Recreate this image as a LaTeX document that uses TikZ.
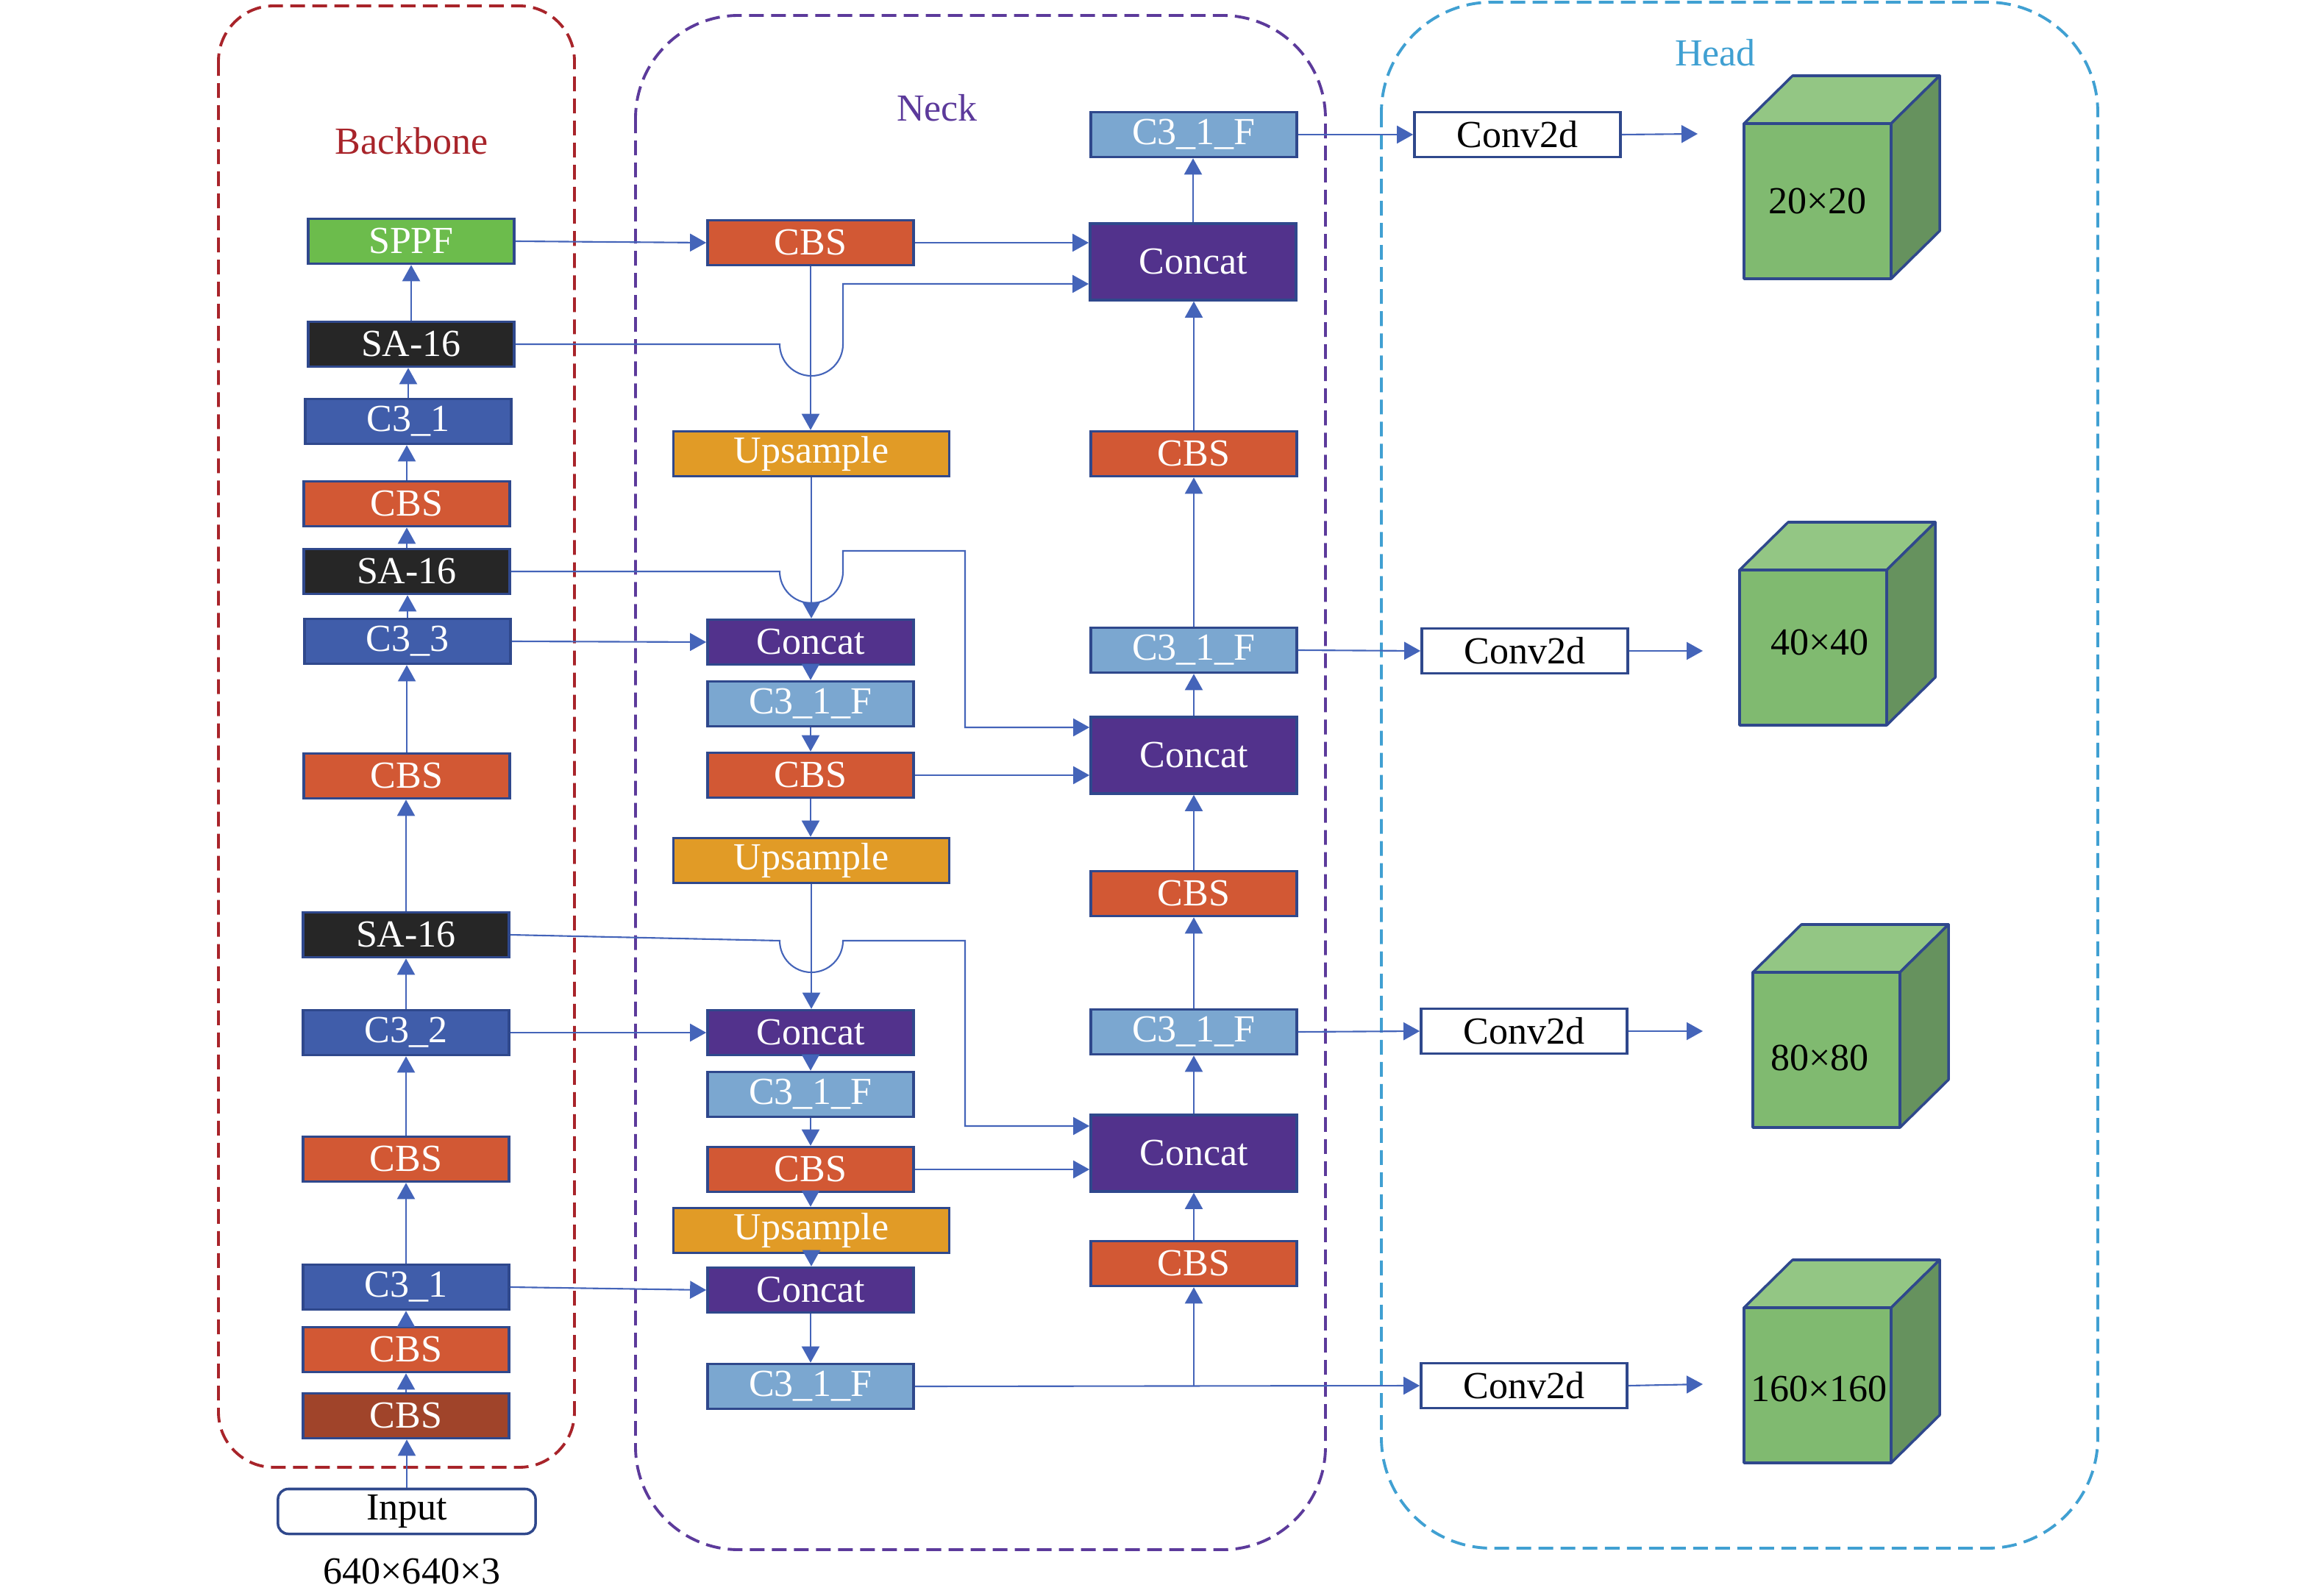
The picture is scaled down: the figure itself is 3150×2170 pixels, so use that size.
\documentclass[tikz,border=0pt]{standalone}
\usepackage{fontspec}
\setmainfont{Liberation Serif}
\usetikzlibrary{calc,arrows.meta}
\definecolor{bdr}{RGB}{47,72,140}
\definecolor{lnk}{RGB}{68,100,185}
\definecolor{cbsc}{RGB}{210,88,52}
\definecolor{cbsd}{RGB}{160,68,42}
\definecolor{c3c}{RGB}{64,93,170}
\definecolor{c3f}{RGB}{123,167,208}
\definecolor{sac}{RGB}{38,38,38}
\definecolor{sppfc}{RGB}{108,188,76}
\definecolor{catc}{RGB}{82,50,140}
\definecolor{upc}{RGB}{225,155,38}
\definecolor{bbred}{RGB}{168,36,42}
\definecolor{neckc}{RGB}{92,58,155}
\definecolor{headc}{RGB}{64,160,210}
\definecolor{cubef}{RGB}{128,186,112}
\definecolor{cubet}{RGB}{147,198,132}
\definecolor{cubes}{RGB}{102,146,94}
\tikzset{
txt/.style={font=\fontsize{14.8}{16}\selectfont},
blk/.style={txt,draw=bdr,line width=1pt,minimum width=2.8cm,minimum height=0.61cm,inner sep=0pt,text=white},
cbsbox/.style={blk,fill=cbsc},
c3box/.style={blk,fill=c3c},
c3fbox/.style={blk,fill=c3f},
sabox/.style={blk,fill=sac},
sppfbox/.style={blk,fill=sppfc},
catbox/.style={blk,fill=catc},
bigcat/.style={catbox,minimum height=1.04cm},
upbox/.style={blk,fill=upc,minimum width=3.75cm},
convbox/.style={blk,fill=white,text=black},
inbox/.style={blk,fill=white,text=black,minimum width=3.5cm,rounded corners=4pt},
zone/.style={line width=1.1pt,dash pattern=on 2mm off 1mm},
zonelbl/.style={txt},
link/.style={lnk,line width=0.6pt,-{Triangle[length=2.2mm,width=2.4mm]}},
cubeface/.style={draw=bdr,line width=1pt,line join=round}
}
% cube: [label shift], name, x, y of front top-left, label
\newcommand{\featcube}[5][0,0]{
\draw[cubeface,fill=cubet] (#3,#4) -- ++(66,-65) -- ++(200,0) -- ++(-66,65) -- cycle;
\draw[cubeface,fill=cubes] ({#3+200},#4) -- ++(66,-65) -- ++(0,211) -- ++(-66,65) -- cycle;
\draw[cubeface,fill=cubef] (#3,#4) rectangle ++(200,211);
\node[txt,shift={(#1)}] (#2) at ({#3+100},{#4+105}) {#5};
}

\begin{document}
\begin{tikzpicture}[x=0.01cm,y=-0.01cm]
\useasboundingbox (0,0) rectangle (3150,2170);

% zones
\draw[zone,bbred,rounded corners=0.75cm] (297,8) rectangle (781,1995);
\draw[zone,neckc,rounded corners=1.4cm] (864,21) rectangle (1802,2107);
\draw[zone,headc,rounded corners=1.5cm] (1878,3) rectangle (2852,2105);
\node[zonelbl,text=bbred] (bblbl) at (560,192) {Backbone};
\node[zonelbl,text=neckc] (necklbl) at (1274,147) {Neck};
\node[zonelbl,text=headc] (headlbl) at (2332,72) {Head};

% backbone
\node[sppfbox] (sppf) at (559,328) {SPPF};
\node[sabox] (sa1) at (559,468) {SA-16};
\node[c3box] (c31a) at (555,573) {C3\_1};
\node[cbsbox] (cbs1) at (553,685) {CBS};
\node[sabox] (sa2) at (553,777) {SA-16};
\node[c3box] (c33) at (554,872) {C3\_3};
\node[cbsbox] (cbs2) at (553,1055) {CBS};
\node[sabox] (sa3) at (552,1271) {SA-16};
\node[c3box] (c32) at (552,1404) {C3\_2};
\node[cbsbox] (cbs3) at (552,1576) {CBS};
\node[c3box] (c31b) at (552,1750) {C3\_1};
\node[cbsbox] (cbs4) at (552,1835) {CBS};
\node[cbsbox,fill=cbsd] (cbs5) at (552,1925) {CBS};
\node[inbox] (inp) at (553,2055) {Input};
\node[txt] (dims) at (560,2136) {640×640×3};

% neck, left column
\node[cbsbox] (ncbs1) at (1102,330) {CBS};
\node[upbox] (up1) at (1103,617) {Upsample};
\node[catbox] (cat1) at (1102,873) {Concat};
\node[c3fbox] (f1) at (1102,957) {C3\_1\_F};
\node[cbsbox] (ncbs2) at (1102,1054) {CBS};
\node[upbox] (up2) at (1103,1170) {Upsample};
\node[catbox] (cat2) at (1102,1404) {Concat};
\node[c3fbox] (f2) at (1102,1488) {C3\_1\_F};
\node[cbsbox] (ncbs3) at (1102,1590) {CBS};
\node[upbox] (up3) at (1103,1673) {Upsample};
\node[catbox] (cat3) at (1102,1754) {Concat};
\node[c3fbox] (f3) at (1102,1885) {C3\_1\_F};

% neck, right column
\node[c3fbox] (rf1) at (1623,183) {C3\_1\_F};
\node[bigcat] (rcat1) at (1622,356) {Concat};
\node[cbsbox] (rcbs1) at (1623,617) {CBS};
\node[c3fbox] (rf2) at (1623,884) {C3\_1\_F};
\node[bigcat] (rcat2) at (1623,1027) {Concat};
\node[cbsbox] (rcbs2) at (1623,1215) {CBS};
\node[c3fbox] (rf3) at (1623,1403) {C3\_1\_F};
\node[bigcat] (rcat3) at (1623,1568) {Concat};
\node[cbsbox] (rcbs3) at (1623,1718) {CBS};

% head
\node[convbox] (cv1) at (2063,183) {Conv2d};
\node[convbox] (cv2) at (2073,885) {Conv2d};
\node[convbox] (cv3) at (2072,1402) {Conv2d};
\node[convbox] (cv4) at (2072,1884) {Conv2d};
\coordinate (o1) at (2308,182);
\coordinate (o2) at (2315,885);
\coordinate (o3) at (2315,1402);
\coordinate (o4) at (2315,1882);
\featcube{g1}{2371}{168}{20×20}
\featcube[9,-7]{g2}{2365}{775}{40×40}
\featcube[-9,11]{g3}{2383}{1322}{80×80}
\featcube[2,5]{g4}{2371}{1778}{160×160}

% links
\foreach \a/\b in {inp/cbs5,cbs5/cbs4,cbs4/c31b,c31b/cbs3,cbs3/c32,c32/sa3,sa3/cbs2,cbs2/c33,c33/sa2,sa2/cbs1,cbs1/c31a,c31a/sa1,sa1/sppf}
  \draw[link] (\a.north) -- (\a.north |- \b.south);
\foreach \a/\b in {ncbs1/up1,up1/cat1,cat1/f1,f1/ncbs2,ncbs2/up2,up2/cat2,cat2/f2,f2/ncbs3,ncbs3/up3,up3/cat3,cat3/f3}
  \draw[link] (\a.south) -- (\a.south |- \b.north);
\foreach \a/\b in {rcbs3/rcat3,rcat3/rf3,rf3/rcbs2,rcbs2/rcat2,rcat2/rf2,rf2/rcbs1,rcbs1/rcat1,rcat1/rf1}
  \draw[link] (\a.north) -- (\a.north |- \b.south);
\foreach \a/\b in {sppf/ncbs1,c33/cat1,c32/cat2,c31b/cat3,rf1/cv1,rf2/cv2,rf3/cv3,f3/cv4}
  \draw[link] (\a.east) -- (\b.west);
\foreach \a/\b in {ncbs1/rcat1,ncbs2/rcat2,ncbs3/rcat3}
  \draw[link] (\a.east) -- (\a.east -| \b.west);
\foreach \a/\b in {cv1/o1,cv2/o2,cv3/o3,cv4/o4}
  \draw[link] (\a.east) -- (\b);
\draw[link] (rcbs3.south |- f3.east) -- (rcbs3.south);
% skip links with hops
\draw[link] (sa1.east) -- (1060,468) arc[start angle=180,end angle=360,radius=0.43cm]
  |- ([yshift=-3mm]rcat1.west);
\draw[link] (sa2.east) -- (1060,777) arc[start angle=180,end angle=360,radius=0.43cm]
  -- (1146,749) -- (1312,749) |- ([yshift=3.8mm]rcat2.west);
\draw[link] (sa3.east) -- (1060,1279) arc[start angle=180,end angle=360,radius=0.43cm]
  -- (1312,1279) |- ([yshift=3.7mm]rcat3.west);
\end{tikzpicture}
\end{document}
